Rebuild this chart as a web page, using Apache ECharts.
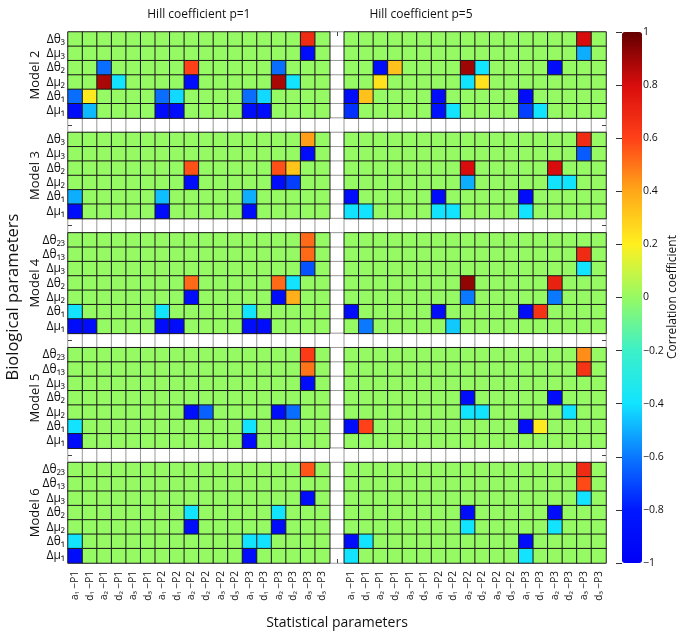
<!DOCTYPE html>
<html><head><meta charset="utf-8">
<script src="https://cdn.jsdelivr.net/npm/echarts@6/dist/echarts.min.js"></script>
<style>html,body{margin:0;padding:0;background:#fff}#c{width:685px;height:637px}</style>
</head><body><div id="c"></div>
<script>
const FONT = "'Open Sans','DejaVu Sans',sans-serif";

// Column categories (statistical parameters), repeated for p=1 and p=5
const statParams = ['a₁ −P1','d₁ −P1','a₂ −P1','d₂ −P1','a₃ −P1','d₃ −P1',
  'a₁ −P2','d₁ −P2','a₂ −P2','d₂ −P2','a₃ −P2','d₃ −P2',
  'a₁ −P3','d₁ −P3','a₂ −P3','d₂ −P3','a₃ −P3','d₃ −P3'];
const hillTitles = ['Hill coefficient p=1', 'Hill coefficient p=5'];

// Row categories (biological parameters)
const rowsSix = ['Δθ₃','Δμ₃','Δθ₂','Δμ₂','Δθ₁','Δμ₁'];
const rowsSeven = ['Δθ₂₃','Δθ₁₃','Δμ₃','Δθ₂','Δμ₂','Δθ₁','Δμ₁'];
const modelNames = ['Model 2','Model 3','Model 4','Model 5','Model 6'];

// Colour bar ticks
const cbTicks = [-1,-0.8,-0.6,-0.4,-0.2,0,0.2,0.4,0.6,0.8,1];
const cbColors = ['#0000F5','#0018FF','#0A78FF','#12E4FF','#3CF0C8','#96FA64',
  '#FFF020','#FFA818','#FF4018','#D80C0C','#640000'];

// Correlation values: rows x 18 columns
const model2_p1 = [
 [0,0,0,0,0,0, 0,0,0,0,0,0, 0,0,0,0,0.68,0],
 [0,0,0,0,0,0, 0,0,0,0,0,0, 0,0,0,0,-0.9,0],
 [0,0,-0.62,0,0,0, 0,0,0.6,0,0,0, 0,0,-0.62,0,0,0],
 [0,0,0.88,-0.4,0,0, 0,0,-0.9,0,0,0, 0,0,0.88,-0.4,0,0],
 [-0.62,0.22,0,0,0,0, -0.62,-0.42,0,0,0,0, -0.62,-0.42,0,0,0,0],
 [-0.9,-0.48,0,0,0,0, -0.9,-0.9,0,0,0,0, -0.9,-0.9,0,0,0,0]
];
const model2_p5 = [
 [0,0,0,0,0,0, 0,0,0,0,0,0, 0,0,0,0,0.8,0],
 [0,0,0,0,0,0, 0,0,0,0,0,0, 0,0,0,0,-0.5,0],
 [0,0,-0.9,0.33,0,0, 0,0,0.9,-0.4,0,0, 0,0,-0.9,0,0,0],
 [0,0,0.24,0,0,0, 0,0,-0.4,0.24,0,0, 0,0,0,0,0,0],
 [-0.9,0.33,0,0,0,0, -0.9,0,0,0,0,0, -0.9,0,0,0,0,0],
 [-0.75,0,0,0,0,0, -0.85,-0.4,0,0,0,0, -0.72,-0.4,0,0,0,0]
];
const model3_p1 = [
 [0,0,0,0,0,0, 0,0,0,0,0,0, 0,0,0,0,0.42,0],
 [0,0,0,0,0,0, 0,0,0,0,0,0, 0,0,0,0,-0.9,0],
 [0,0,0,0,0,0, 0,0,0.57,0,0,0, 0,0,0.57,0.32,0,0],
 [0,0,0,0,0,0, 0,0,-0.9,0,0,0, 0,0,-0.9,-0.72,0,0],
 [-0.5,0,0,0,0,0, -0.47,0,0,0,0,0, -0.5,0,0,0,0,0],
 [-0.9,0,0,0,0,0, -0.9,0,0,0,0,0, -0.9,0,0,0,0,0]
];
const model3_p5 = [
 [0,0,0,0,0,0, 0,0,0,0,0,0, 0,0,0,0,0.68,0],
 [0,0,0,0,0,0, 0,0,0,0,0,0, 0,0,0,0,-0.66,0],
 [0,0,0,0,0,0, 0,0,0.8,0,0,0, 0,0,0.8,0,0,0],
 [0,0,0,0,0,0, 0,0,-0.5,0,0,0, 0,0,-0.4,-0.4,0,0],
 [-0.9,0,0,0,0,0, -0.9,0,0,0,0,0, -0.9,0,0,0,0,0],
 [-0.4,-0.4,0,0,0,0, -0.4,-0.4,0,0,0,0, -0.4,0,0,0,0,0]
];
const model4_p1 = [
 [0,0,0,0,0,0, 0,0,0,0,0,0, 0,0,0,0,0.52,0],
 [0,0,0,0,0,0, 0,0,0,0,0,0, 0,0,0,0,0.52,0],
 [0,0,0,0,0,0, 0,0,0,0,0,0, 0,0,0,0,-0.68,0],
 [0,0,0,0,0,0, 0,0,0.52,0,0,0, 0,0,0.52,-0.4,0,0],
 [0,0,0,0,0,0, 0,0,-0.9,0,0,0, 0,0,-0.9,0.38,0,0],
 [-0.4,0,0,0,0,0, -0.4,0,0,0,0,0, -0.4,0,0,0,0,0],
 [-0.9,-0.9,0,0,0,0, -0.9,-0.9,0,0,0,0, -0.9,-0.9,0,0,0,0]
];
const model4_p5 = [
 [0,0,0,0,0,0, 0,0,0,0,0,0, 0,0,0,0,0,0],
 [0,0,0,0,0,0, 0,0,0,0,0,0, 0,0,0,0,0.68,0],
 [0,0,0,0,0,0, 0,0,0,0,0,0, 0,0,0,0,-0.4,0],
 [0,0,0,0,0,0, 0,0,0.92,0,0,0, 0,0,0.72,0,0,0],
 [0,0,0,0,0,0, 0,0,-0.6,0,0,0, 0,0,-0.6,0,0,0],
 [-0.9,0,0,0,0,0, -0.9,0,0,0,0,0, -0.9,0.65,0,0,0,0],
 [0,-0.6,0,0,0,0, 0,-0.45,0,0,0,0, 0,0,0,0,0,0]
];
const model5_p1 = [
 [0,0,0,0,0,0, 0,0,0,0,0,0, 0,0,0,0,0.62,0],
 [0,0,0,0,0,0, 0,0,0,0,0,0, 0,0,0,0,0.5,0],
 [0,0,0,0,0,0, 0,0,0,0,0,0, 0,0,0,0,-0.9,0],
 [0,0,0,0,0,0, 0,0,0,0,0,0, 0,0,0,0,0,0],
 [0,0,0,0,0,0, 0,0,-0.88,-0.65,0,0, 0,0,-0.88,-0.62,0,0],
 [-0.4,0,0,0,0,0, 0,0,0,0,0,0, -0.4,0,0,0,0,0],
 [-0.9,0,0,0,0,0, 0,0,0,0,0,0, -0.9,0,0,0,0,0]
];
const model5_p5 = [
 [0,0,0,0,0,0, 0,0,0,0,0,0, 0,0,0,0,0.45,0],
 [0,0,0,0,0,0, 0,0,0,0,0,0, 0,0,0,0,0.65,0],
 [0,0,0,0,0,0, 0,0,0,0,0,0, 0,0,0,0,0,0],
 [0,0,0,0,0,0, 0,0,-0.9,0,0,0, 0,0,-0.9,0,0,0],
 [0,0,0,0,0,0, 0,0,-0.4,-0.4,0,0, 0,0,0,-0.4,0,0],
 [-0.9,0.6,0,0,0,0, 0,0,0,0,0,0, -0.9,0.22,0,0,0,0],
 [0,0,0,0,0,0, 0,0,0,0,0,0, 0,0,0,0,0,0]
];
const model6_p1 = [
 [0,0,0,0,0,0, 0,0,0,0,0,0, 0,0,0,0,0.56,0],
 [0,0,0,0,0,0, 0,0,0,0,0,0, 0,0,0,0,0,0],
 [0,0,0,0,0,0, 0,0,0,0,0,0, 0,0,0,0,-0.9,0],
 [0,0,0,0,0,0, 0,0,-0.4,0,0,0, 0,0,-0.4,0,0,0],
 [0,0,0,0,0,0, 0,0,-0.9,0,0,0, 0,0,-0.9,0,0,0],
 [-0.4,0,0,0,0,0, 0,0,0,0,0,0, -0.4,-0.4,0,0,0,0],
 [-0.9,0,0,0,0,0, 0,0,0,0,0,0, -0.9,0,0,0,0,0]
];
const model6_p5 = [
 [0,0,0,0,0,0, 0,0,0,0,0,0, 0,0,0,0,0.68,0],
 [0,0,0,0,0,0, 0,0,0,0,0,0, 0,0,0,0,0.58,0],
 [0,0,0,0,0,0, 0,0,0,0,0,0, 0,0,0,0,-0.4,0],
 [0,0,0,0,0,0, 0,0,-0.9,0,0,0, 0,0,-0.9,0,0,0],
 [0,0,0,0,0,0, 0,0,-0.4,0,0,0, 0,0,-0.4,0,0,0],
 [-0.9,-0.4,0,0,0,0, 0,0,0,0,0,0, -0.9,0,0,0,0,0],
 [-0.4,0,0,0,0,0, 0,0,0,0,0,0, -0.4,0,0,0,0,0]
];

const blocks = [
  {name: modelNames[0], labels: rowsSix, p1: model2_p1, p5: model2_p5},
  {name: modelNames[1], labels: rowsSix, p1: model3_p1, p5: model3_p5},
  {name: modelNames[2], labels: rowsSeven, p1: model4_p1, p5: model4_p5},
  {name: modelNames[3], labels: rowsSeven, p1: model5_p1, p5: model5_p5},
  {name: modelNames[4], labels: rowsSeven, p1: model6_p1, p5: model6_p5}
];

// Build categories and data
const nCol = statParams.length;          // 18
const gapCol = nCol;                     // 18
const xCats = statParams.concat([''], statParams);
const yCats = [];
const gapRows = [];
const cellData = [];
const gapData = [];
const blockRanges = [];
blocks.forEach((b, bi) => {
  const start = yCats.length;
  b.labels.forEach((lab, r) => {
    const y = start + r;
    yCats.push(lab);
    for (let c = 0; c < nCol; c++) {
      cellData.push([c, y, b.p1[r][c]]);
      cellData.push([gapCol + 1 + c, y, b.p5[r][c]]);
    }
    gapData.push([gapCol, y, 0]);
  });
  blockRanges.push({name: b.name, start: start, end: yCats.length - 1});
  if (bi < blocks.length - 1) {
    const gy = yCats.length;
    yCats.push('');
    gapRows.push(gy);
    for (let x = 0; x < xCats.length; x++) gapData.push([x, gy, 0]);
  }
});

const fmtNum = v => {
  const s = String(Math.round(v * 10) / 10);
  return s.replace('-', '−');
};

const chart = echarts.init(document.getElementById('c'), null, {renderer: 'canvas'});
const tickStyle = {color: '#444', width: 1};
const option = {
  animation: false,
  backgroundColor: '#fff',
  textStyle: {fontFamily: FONT},
  grid: [
    {left: 68, right: 79, top: 32, bottom: 74},
    {left: 622, width: 20, top: 32, bottom: 74}
  ],
  xAxis: [
    {type: 'category', gridIndex: 0, data: xCats, position: 'bottom', z: 10,
     axisLine: {show: false},
     axisTick: {show: true, inside: true, alignWithLabel: true, length: 4,
                interval: (i) => i === gapCol, lineStyle: tickStyle},
     axisLabel: {interval: 0, rotate: 90, margin: 8, fontSize: 10, color: '#111', fontFamily: FONT},
     splitLine: {show: false}},
    {type: 'category', gridIndex: 0, data: xCats, position: 'top', z: 10,
     axisLine: {show: false},
     axisTick: {show: true, inside: true, alignWithLabel: true, length: 4,
                interval: (i) => i === gapCol, lineStyle: tickStyle},
     axisLabel: {show: false}, splitLine: {show: false}},
    {type: 'value', gridIndex: 1, min: 0, max: 1, show: false}
  ],
  yAxis: [
    {type: 'category', gridIndex: 0, data: yCats, inverse: true, position: 'left', z: 10,
     axisLine: {show: false},
     axisTick: {show: true, inside: true, alignWithLabel: true, length: 4,
                interval: (i) => gapRows.indexOf(i) >= 0, lineStyle: tickStyle},
     axisLabel: {interval: 0, margin: 3, fontSize: 12, color: '#111', fontFamily: FONT},
     splitLine: {show: false}},
    {type: 'category', gridIndex: 0, data: yCats, inverse: true, position: 'right', z: 10,
     axisLine: {show: false},
     axisTick: {show: true, inside: true, alignWithLabel: true, length: 4,
                interval: (i) => gapRows.indexOf(i) >= 0, lineStyle: tickStyle},
     axisLabel: {show: false}, splitLine: {show: false}},
    {type: 'value', gridIndex: 1, min: -1, max: 1, interval: 0.2, position: 'right', z: 10,
     axisLine: {show: false},
     axisTick: {show: true, inside: true, length: 6, lineStyle: {color: '#333', width: 1}},
     axisLabel: {margin: 1, fontSize: 10.5, color: '#111', fontFamily: FONT, formatter: fmtNum},
     splitLine: {show: false}}
  ],
  visualMap: {
    type: 'continuous', min: -1, max: 1, seriesIndex: 1, dimension: 2,
    left: 622, top: 32, itemWidth: 20, itemHeight: 531, padding: 0,
    calculable: false, hoverLink: false, realtime: false,
    inRange: {color: cbColors}
  },
  series: [
    {type: 'heatmap', xAxisIndex: 0, yAxisIndex: 0, data: gapData, silent: true,
     itemStyle: {color: '#ffffff', borderColor: '#9a9a9a', borderWidth: 1}},
    {type: 'heatmap', xAxisIndex: 0, yAxisIndex: 0, data: cellData, silent: true,
     itemStyle: {borderColor: '#1a1a1a', borderWidth: 1}}
  ]
};
chart.setOption(option);

// Text annotations positioned from the axes
const gfx = [];
blockRanges.forEach(b => {
  const y0 = chart.convertToPixel({yAxisIndex: 0}, b.start);
  const y1 = chart.convertToPixel({yAxisIndex: 0}, b.end);
  gfx.push({type: 'text', x: 35, y: (y0 + y1) / 2, rotation: Math.PI / 2,
    style: {text: b.name, fontSize: 13, fontFamily: FONT, fill: '#111', align: 'center', verticalAlign: 'middle'}});
});
const xa = chart.convertToPixel({xAxisIndex: 0}, 0);
const xb = chart.convertToPixel({xAxisIndex: 0}, nCol - 1);
gfx.push({type: 'text', x: (xa + xb) / 2, y: 15,
  style: {text: hillTitles[0], fontSize: 12, fontFamily: FONT, fill: '#111', align: 'center', verticalAlign: 'middle'}});
gfx.push({type: 'text', x: 421, y: 15,
  style: {text: hillTitles[1], fontSize: 12, fontFamily: FONT, fill: '#111', align: 'center', verticalAlign: 'middle'}});
gfx.push({type: 'text', x: 337, y: 623,
  style: {text: 'Statistical parameters', fontSize: 14, fontFamily: FONT, fill: '#111', align: 'center', verticalAlign: 'middle'}});
gfx.push({type: 'text', x: 13, y: 297, rotation: Math.PI / 2,
  style: {text: 'Biological parameters', fontSize: 16.5, fontFamily: FONT, fill: '#111', align: 'center', verticalAlign: 'middle'}});
gfx.push({type: 'text', x: 673, y: 297, rotation: Math.PI / 2,
  style: {text: 'Correlation coefficient', fontSize: 12, fontFamily: FONT, fill: '#111', align: 'center', verticalAlign: 'middle'}});
chart.setOption({graphic: gfx});
</script>
</body></html>
